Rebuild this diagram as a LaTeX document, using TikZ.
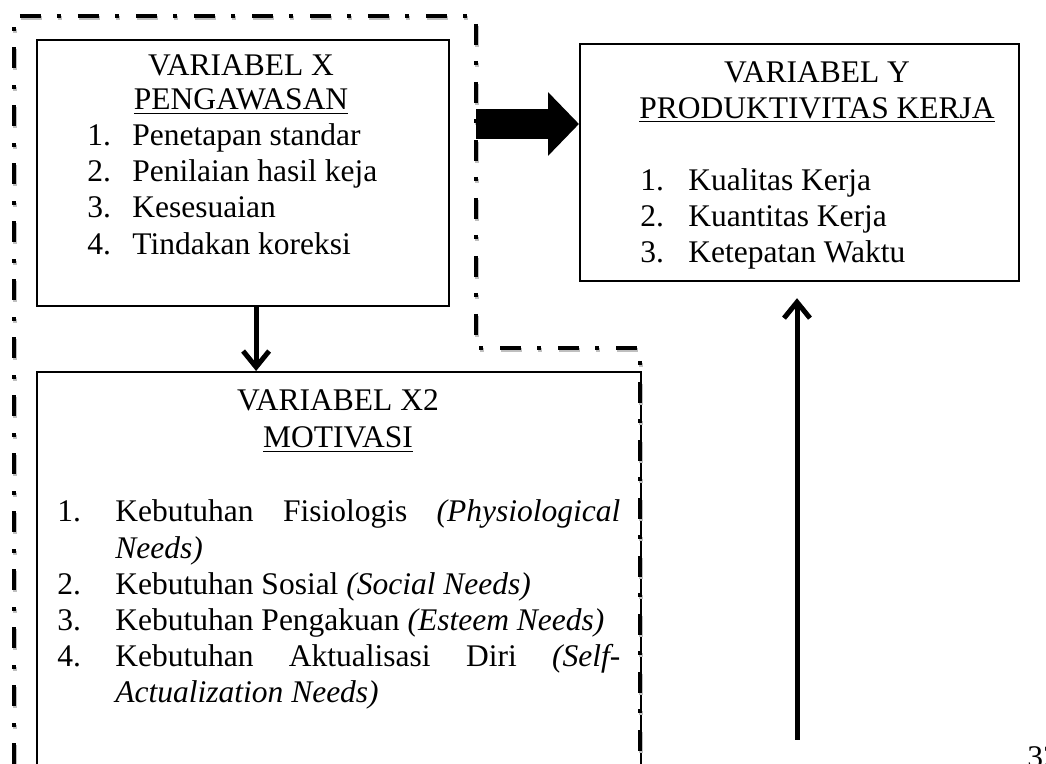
\documentclass[tikz,border=0pt]{standalone}
\usepackage{fontspec}
\setmainfont{Liberation Serif}
\usetikzlibrary{arrows.meta,positioning}

\newlength\numw
\newcommand\itm[2]{\par\hangindent=\numw\hangafter=1\noindent\makebox[\numw][l]{#1}#2}
\newcommand\itemlist[3]{\parbox[t]{#1}{\setlength\numw{#2}\fontsize{15.75}{18.1}\selectfont#3}}

\begin{document}
\begin{tikzpicture}[x=0.5pt,y=-0.5pt,every node/.style={font=\fontsize{15.75}{18.1}\selectfont,inner sep=0pt},box/.style={draw,line width=1.1pt,anchor=north west},ttl/.style={anchor=base},lst/.style={anchor=base west},arr/.style={-{Straight Barb[length=8pt,width=13pt]},line width=2.5pt},fatarr/.style={line width=15pt,-{Triangle[length=15.5pt,width=31pt]}},outline/.style={line width=2pt,dash pattern=on 10.5pt off 8pt on 2pt off 8.5pt}]
\useasboundingbox (0,0) rectangle (1046,764);
\clip (0,0) rectangle (1046,764);
% boxes
\node[box,minimum width=206pt,minimum height=133pt] (boxX) at (36,39) {};
\node[box,minimum width=219.5pt,minimum height=118.5pt] (boxY) at (579,43) {};
\node[box,minimum width=302pt,minimum height=220pt] (boxXtwo) at (36,371) {};
% variabel X
\node[ttl] (tX) at (241,75.5) {VARIABEL X};
\node[ttl] (sX) at (241,110) {\underline{PENGAWASAN}};
\node[lst] (lX) at (87,145.5) {\itemlist{150pt}{22.5pt}{%
\itm{1.}{Penetapan standar}
\itm{2.}{Penilaian hasil keja}
\itm{3.}{Kesesuaian}
\itm{4.}{Tindakan koreksi}}};
% variabel Y
\node[ttl] (tY) at (817,83) {VARIABEL Y};
\node[ttl] (sY) at (817,118.5) {\underline{PRODUKTIVITAS KERJA}};
\node[lst] (lY) at (640,190.5) {\itemlist{150pt}{24pt}{%
\itm{1.}{Kualitas Kerja}
\itm{2.}{Kuantitas Kerja}
\itm{3.}{Ketepatan Waktu}}};
% variabel X2
\node[ttl] (tXtwo) at (338,411) {VARIABEL X2};
\node[ttl] (sXtwo) at (338,448) {\underline{MOTIVASI}};
\node[lst] (lXtwo) at (57,522) {\itemlist{281.5pt}{29pt}{%
\itm{1.}{Kebutuhan Fisiologis \textit{(Physiological}\linebreak\textit{Needs)}}
\itm{2.}{Kebutuhan Sosial \textit{(Social Needs)}}
\itm{3.}{Kebutuhan Pengakuan \textit{(Esteem Needs)}}
\itm{4.}{Kebutuhan Aktualisasi Diri \textit{(Self-}\linebreak\textit{Actualization Needs)}}}};
% dash-dot frame
\foreach \dx/\dy/\col in {1/2/gray!50,0/0/black}
  \draw[outline,draw=\col,shift={(\dx,\dy)}] (14,764) |- (476,16) |- (640,348) -- (640,764);
% arrows
\coordinate (fatbase) at (476,124);
\draw[fatarr] (fatbase) -- (boxY.west |- fatbase);
\draw[arr] ([xshift=6.5pt]boxX.south) -- ([xshift=6.5pt]boxX.south |- boxXtwo.north);
\coordinate (upstart) at (797,740);
\draw[arr] (upstart) -- ([yshift=-8pt]boxY.south -| upstart);
\node[anchor=base west] (pg) at (1027,768) {32};
\end{tikzpicture}
\end{document}
